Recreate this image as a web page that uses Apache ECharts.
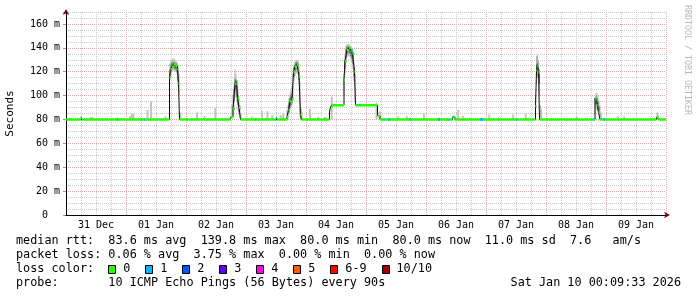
<!DOCTYPE html>
<html><head><meta charset="utf-8">
<script src="https://cdn.jsdelivr.net/npm/echarts@6/dist/echarts.min.js"></script>
<style>html,body{margin:0;padding:0;background:#fff}#c{width:697px;height:297px}</style>
</head><body><div id="c"></div>
<script>
// x values: hours since 31 Dec 00:00 ; y values: milliseconds
const dayLabels = ['31 Dec','01 Jan','02 Jan','03 Jan','04 Jan','05 Jan','06 Jan','07 Jan','08 Jan','09 Jan'];
const yTickLabels = ['0  ','20 m','40 m','60 m','80 m','100 m','120 m','140 m','160 m'];

// median rtt: [hour, ms], value holds until the next point
const medianRtt = [
  [0,80],[6.0,81.5],[6.4,80],
  [41.4,115],[41.8,122],[42.4,124],[43.2,126],[44.0,125],[44.6,122],[45.0,110],[45.4,80],
  [65.8,82],[66.8,89],[67.6,110],[68.2,112],[68.6,98],[69.2,90],[69.8,80],
  [84.0,81.5],[84.4,80],
  [88.4,82],[89.0,88],[89.6,95],[90.4,97],[91.0,120],[91.6,124],[92.4,126],[93.2,116],[93.8,84],[94.2,80],
  [105.4,88],[106.2,92],[111.2,113],[111.6,129],[112.4,138],[113.2,140],[114.0,138],[114.6,135],[115.4,120],[115.8,92],[124.6,83],[125.6,80],
  [154.6,82],[155.6,80],
  [187.8,91],[188.2,121],[188.6,124],[189.0,120],[189.4,80],
  [211.6,98],[212.2,96],[212.6,92],[213.0,86],[213.6,80],
  [236.2,82],[237.0,80],
  [240,80]
];

// periods with 1/10 packet loss: [fromHour, toHour, ms]
const lossOne = [
  [5.8,6.2,81.5],[20.5,20.9,80],[29.9,30.3,80],[31.3,31.7,80],[75.7,76.1,80],[84.0,84.4,81.5],
  [114.0,114.6,138],[117.4,117.8,92],[127.0,127.4,80],[128.8,129.6,80],[137.4,137.8,80],[148.8,149.6,80],
  [152.6,153.0,80],[154.6,155.0,82],[165.6,166.8,80],[180.1,180.5,80],[211.2,211.6,80],[215.0,215.6,80]
];

// single slow pings above the median: [hour, ms]
const smokeOutliers = [
  [9.8,82],[10.6,82],[20.4,81.5],[25.6,83],[26.4,85],[27.0,85],[32.6,88],[34.0,95],[39.8,82.5],[45.8,86],
  [52.4,86],[55.4,83],[59.7,89.5],[74.5,82.4],[78.4,87],[80.6,87],[82.5,83.6],[85.9,83.6],[86.9,85],[93.8,89],
  [97.6,89],[100.9,82],[103.6,82],[106.3,99],[124.2,94],[125.6,86.6],[132.9,82.7],[136.3,83],[137.6,81.5],[143.2,85.5],
  [149.1,81.5],[156.9,88],[158.7,83],[161.6,81.5],[169.3,84],[170.7,81.5],[172.9,81.5],[178.9,84],[183.9,84.5],[190.0,89],
  [204.3,82.7],[213.8,85],[220.7,82.7],[223.2,82.5],[236.6,86],[239.2,81.5]
];

// ping spread (outer): [hour, low ms, high ms]
const smokeOuter = [
  [41.6,113,127],[42.0,118,130],[42.4,120,130],[42.8,121,131],[43.2,121,131],[43.6,120,130],[44.0,120,129],[44.4,118,128],[44.8,108,125],[45.2,100,118],
  [66.4,82,92],[66.8,84,100],[67.2,90,108],[67.6,98,122],[68.0,100,118],[68.4,95,112],[68.8,88,105],[69.2,84,98],[69.6,81,92],[70.0,80,85],
  [88.4,80,88],[88.8,82,92],[89.2,84,98],[89.6,88,102],[90.0,90,105],[90.4,92,108],[90.8,96,118],[91.2,112,126],[91.6,116,128],[92.0,118,130],[92.4,120,130],[92.8,118,129],[93.2,110,124],[93.6,84,112],[94.0,80,90],[94.4,80,86],
  [111.2,100,118],[111.6,118,134],[112.0,128,142],[112.4,132,143],[112.8,133,143],[113.2,133,143],[113.6,132,142],[114.0,130,141],[114.4,128,140],[114.8,122,138],[115.2,112,128],[115.6,95,118],
  [187.8,84,100],[188.2,110,133],[188.6,115,134],[189.0,114,130],[189.4,100,122],[189.8,80,92],
  [211.6,84,98],[212.0,90,102],[212.4,88,102],[212.8,86,100],[213.2,84,96],[213.6,82,92],[214.0,80,86]
];
// ping spread (core): [hour, low ms, high ms]
const smokeCore = [
  [41.6,115,122],[42.0,120,126],[42.4,122,127],[42.8,123,128],[43.2,123,128],[43.6,122,127],[44.0,122,127],[44.4,120,125],[44.8,112,121],
  [67.2,95,105],[67.6,104,114],[68.0,105,113],[68.4,98,108],[68.8,92,100],[69.2,86,92],
  [89.2,86,94],[89.6,90,98],[90.0,92,100],[90.4,94,102],[91.2,116,124],[91.6,120,126],[92.0,122,128],[92.4,123,128],[92.8,122,127],[93.2,113,120],
  [111.6,122,130],[112.0,131,139],[112.4,135,141],[112.8,136,141],[113.2,136,141],[113.6,135,140],[114.0,133,139],[114.4,131,137],[114.8,126,134],[115.2,116,124],
  [188.2,116,126],[188.6,120,127],[189.0,118,125],[189.4,110,118],
  [212.0,93,99],[212.4,92,98],[212.8,88,95],[213.2,85,91]
];

const lossLabels = ['0','1','2','3','4','5','6-9','10/10'];
const lossColors = ['#26ff00','#00b8ff','#0059ff','#5e00ff','#ff00ea','#ff5e00','#ff0000','#a00000'];
const medianStats = ['83.6 ms avg','139.8 ms max','80.0 ms min','80.0 ms now','11.0 ms sd','7.6   am/s'];
const lossStats = ['0.06 % avg','3.75 % max','0.00 % min','0.00 % now'];
const probeText = '10 ICMP Echo Pings (56 Bytes) every 90s';
const stampText = 'Sat Jan 10 00:09:33 2026';

const MONO = '"DejaVu Sans Mono", monospace';
const GRID_C = '#c8c8c8', MGRID_C = '#dcaaaa';

// green (loss 0) horizontal segments from median steps
const greenSeg = [];
for (let i = 0; i < medianRtt.length - 1; i++) {
  greenSeg.push([medianRtt[i][0], medianRtt[i][1]], [medianRtt[i+1][0], medianRtt[i][1]], [medianRtt[i+1][0], '-']);
}
const blueSeg = [];
lossOne.forEach(s => { blueSeg.push([s[0], s[2]], [s[1], s[2]], [s[1], '-']); });

function rectSeries(data, color, halfW, baseFromData) {
  return {
    type: 'custom', xAxisIndex: 2, yAxisIndex: 2, silent: true, animation: false,
    data: data,
    renderItem: function (params, api) {
      const h = api.value(0);
      const lo = baseFromData ? api.value(1) : 80;
      const hi = baseFromData ? api.value(2) : api.value(1);
      const p0 = api.coord([h - halfW, hi]);
      const p1 = api.coord([h + halfW, lo]);
      return { type: 'rect', shape: { x: p0[0], y: p0[1], width: p1[0] - p0[0], height: p1[1] - p0[1] }, style: { fill: color } };
    }
  };
}

const cw = 7.1, lx = 16;
const rowY = [241.3, 255.3, 269.3, 283.3];
const font = '11.8px ' + MONO;
const graphics = [];
function txt(s, x, y, align) {
  graphics.push({ type: 'text', x: x, y: y, style: { text: s, font: font, fill: '#000', align: align || 'left', verticalAlign: 'middle', textAlign: align || 'left', textVerticalAlign: 'middle' } });
}
txt('median rtt:  ' + medianStats.join('  '), lx, rowY[0]);
txt('packet loss: ' + lossStats.join('  '), lx, rowY[1]);
txt('loss color:', lx, rowY[2]);
let bx = lx + 13 * cw;
lossLabels.forEach((l, i) => {
  graphics.push({ type: 'rect', shape: { x: Math.round(bx) + 0.5, y: 265.5, width: 7, height: 8 }, style: { fill: lossColors[i], stroke: '#000', lineWidth: 1 } });
  txt(l, bx + 15, rowY[2]);
  bx += 29.9 + l.length * cw;
});
txt('probe:       ' + probeText, lx, rowY[3]);
txt(stampText, 681, rowY[3], 'right');
graphics.push({ type: 'text', x: 687.5, y: 60, rotation: -Math.PI / 2,
  style: { text: 'RRDTOOL / TOBI OETIKER', font: '8.3px ' + MONO, fill: '#b8b8b8', align: 'center', verticalAlign: 'middle', textAlign: 'center', textVerticalAlign: 'middle' } });

const hidden = { axisLine: { show: false }, axisTick: { show: false }, axisLabel: { show: false } };
const chart = echarts.init(document.getElementById('c'), null, { renderer: 'canvas' });
chart.setOption({
  backgroundColor: '#ffffff',
  animation: false,
  grid: { left: 66, top: 12, width: 600, height: 203, outerBoundsMode: 'none', containLabel: false },
  xAxis: [
    Object.assign({ type: 'value', position: 'bottom', min: 0, max: 240, interval: 6, z: 0,
      splitLine: { show: true, lineStyle: { color: ['rgba(0,0,0,0)', GRID_C, GRID_C, GRID_C], type: 'dotted', width: 1 } } }, hidden),
    { type: 'value', position: 'bottom', min: 0, max: 240, interval: 24, z: 0,
      axisLine: { show: true, onZero: false, symbol: ['none', 'arrow'], symbolSize: [5, 6], symbolOffset: [0, 4], lineStyle: { color: '#900000', width: 1 } },
      axisTick: { show: false }, axisLabel: { show: false },
      splitLine: { show: true, lineStyle: { color: MGRID_C, type: 'dotted', width: 1 } } },
    { type: 'value', position: 'bottom', min: 0, max: 240, interval: 12, z: 3,
      axisLine: { show: true, onZero: false, lineStyle: { color: '#000', width: 1 } },
      axisTick: { show: false }, splitLine: { show: false },
      axisLabel: { show: true, margin: 5, fontFamily: MONO, fontSize: 10, color: '#000',
        formatter: v => (v % 24 === 12 ? dayLabels[(v - 12) / 24] : '') } }
  ],
  yAxis: [
    Object.assign({ type: 'value', position: 'left', min: 0, max: 170, interval: 5, z: 0,
      splitLine: { show: true, lineStyle: { color: ['rgba(0,0,0,0)', GRID_C, GRID_C, GRID_C], type: 'dotted', width: 1 } } }, hidden),
    { type: 'value', position: 'left', min: 0, max: 170, interval: 20, z: 0,
      axisLine: { show: true, onZero: false, symbol: ['none', 'arrow'], symbolSize: [5, 6], symbolOffset: [0, 3], lineStyle: { color: '#900000', width: 1 } },
      axisTick: { show: true, length: 3, lineStyle: { color: '#a0a0a0' } },
      axisLabel: { show: true, margin: 6, fontFamily: MONO, fontSize: 10, color: '#000',
        formatter: v => (v % 20 === 0 && yTickLabels[v / 20] !== undefined ? yTickLabels[v / 20] : '') },
      splitLine: { show: true, showMaxLine: false, lineStyle: { color: MGRID_C, type: 'dotted', width: 1 } },
      name: 'Seconds', nameLocation: 'middle', nameGap: 50, nameRotate: 90,
      nameTextStyle: { fontFamily: MONO, fontSize: 11, color: '#000' } },
    { type: 'value', position: 'left', min: 0, max: 170, z: 3,
      axisLine: { show: true, onZero: false, lineStyle: { color: '#000', width: 1 } },
      axisTick: { show: false }, axisLabel: { show: false }, splitLine: { show: false } }
  ],
  series: [
    rectSeries(smokeOutliers, '#c4c4c4', 0.4, false),
    rectSeries(smokeOuter, '#b0b0b0', 0.2, true),
    rectSeries(smokeCore, '#585858', 0.2, true),
    { type: 'line', xAxisIndex: 2, yAxisIndex: 2, data: medianRtt, step: 'end', showSymbol: false, symbol: 'none',
      lineStyle: { color: '#111', width: 1 }, silent: true, animation: false },
    { type: 'line', xAxisIndex: 2, yAxisIndex: 2, data: greenSeg, showSymbol: false, symbol: 'none', connectNulls: false,
      lineStyle: { color: lossColors[0], width: 2.5, cap: 'butt' }, silent: true, animation: false },
    { type: 'line', xAxisIndex: 2, yAxisIndex: 2, data: blueSeg, showSymbol: false, symbol: 'none', connectNulls: false,
      lineStyle: { color: lossColors[1], width: 2.5, cap: 'butt' }, silent: true, animation: false }
  ],
  graphic: graphics
});
</script></body></html>
